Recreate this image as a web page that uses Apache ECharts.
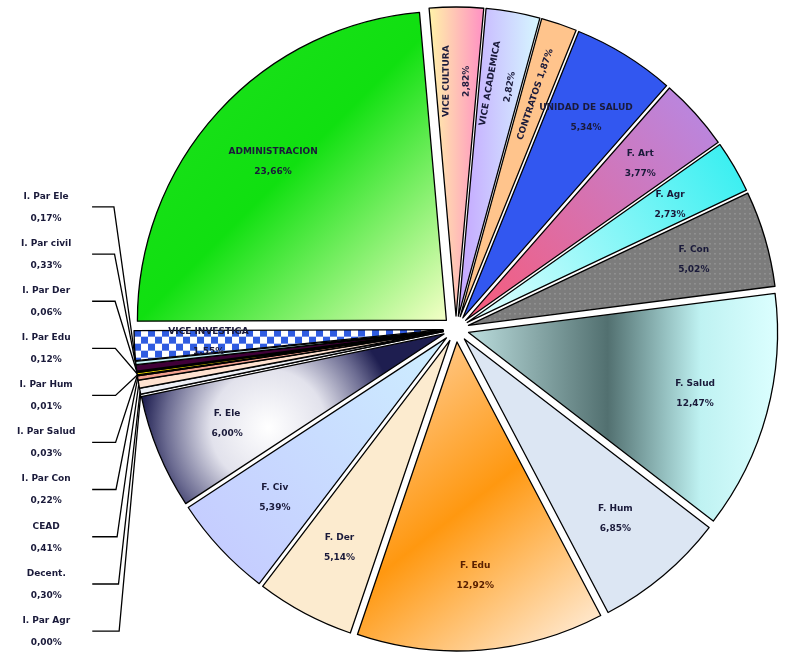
<!DOCTYPE html>
<html>
<head>
<meta charset="utf-8">
<script src="https://cdn.jsdelivr.net/npm/echarts@6/dist/echarts.min.js"></script>
<style>
  html, body { margin: 0; padding: 0; background: #fff; }
  #chart { width: 788px; height: 652px; }
</style>
</head>
<body>
<div id="chart"></div>
<script>
// slices in clockwise order, starting just right of the top
const names = ['VICE CULTURA', 'VICE ACADEMICA', 'CONTRATOS', 'UNIDAD DE SALUD', 'F. Art', 'F. Agr', 'F. Con',
    'F. Salud', 'F. Hum', 'F. Edu', 'F. Der', 'F. Civ', 'F. Ele',
    'I. Par Agr', 'Decent.', 'CEAD', 'I. Par Con', 'I. Par Salud', 'I. Par Hum', 'I. Par Edu', 'I. Par Der',
    'I. Par civil', 'I. Par Ele', 'VICE INVESTIGA', 'ADMINISTRACION'];
const values = [2.82, 2.82, 1.87, 5.34, 3.77, 2.73, 5.02,
    12.47, 6.85, 12.92, 5.14, 5.39, 6.00,
    0.00, 0.30, 0.41, 0.22, 0.03, 0.01, 0.12, 0.06,
    0.33, 0.17, 1.55, 23.66];
// tiny slices get their labels outside, in the left column
const outsideNames = ['I. Par Agr', 'Decent.', 'CEAD', 'I. Par Con', 'I. Par Salud', 'I. Par Hum',
    'I. Par Edu', 'I. Par Der', 'I. Par civil', 'I. Par Ele'];
const radialNames = ['VICE CULTURA', 'VICE ACADEMICA', 'CONTRATOS'];

const pct = v => v.toFixed(2).replace('.', ',') + '%';

// small canvas patterns
const makePattern = (size, draw) => {
    let c = document.createElement('canvas');
    c.width = size; c.height = size;
    draw(c.getContext('2d'));
    return { image: c, repeat: 'repeat' };
};
const checker = makePattern(14, g => {
    g.fillStyle = '#ffffff'; g.fillRect(0, 0, 14, 14);
    g.fillStyle = '#2f5be0'; g.fillRect(0, 0, 7, 7); g.fillRect(7, 7, 7, 7);
});
const dots = makePattern(5, g => {
    g.fillStyle = '#7c7c7c'; g.fillRect(0, 0, 5, 5);
    g.fillStyle = '#b8b8b8'; g.fillRect(2, 2, 1, 1);
});

const lin = (x, y, x2, y2, stops) => ({
    type: 'linear', x: x, y: y, x2: x2, y2: y2,
    colorStops: stops.map((c, i) => ({ offset: i / (stops.length - 1), color: c }))
});

const fills = {
    'VICE CULTURA': lin(0, 0, 1, 0, ['#fff4a8', '#ff8fc4']),
    'VICE ACADEMICA': lin(0, 0, 1, 0, ['#c4a4ff', '#d6f8ff']),
    'CONTRATOS': '#ffc48c',
    'UNIDAD DE SALUD': '#3257f0',
    'F. Art': lin(0, 1, 1, 0, ['#f85a78', '#b48ae8']),
    'F. Agr': lin(1, 0, 0, 1, ['#30eef0', '#e6ffff']),
    'F. Con': dots,
    'F. Salud': { type: 'linear', x: 0, y: 0, x2: 1, y2: 0, colorStops: [
        { offset: 0, color: '#bcdede' }, { offset: 0.45, color: '#527070' },
        { offset: 0.75, color: '#bff2f2' }, { offset: 1, color: '#dcffff' }] },
    'F. Hum': '#dce6f3',
    'F. Edu': lin(0, 0, 1, 1, ['#ffd8b0', '#ff9810', '#fff4ea']),
    'F. Der': '#fcebcf',
    'F. Civ': lin(0, 1, 1, 0, ['#c4c8ff', '#cdeeff']),
    'F. Ele': { type: 'radial', x: 0.42, y: 0.55, r: 0.75, colorStops: [
        { offset: 0, color: '#ffffff' }, { offset: 0.45, color: '#e2e2ec' },
        { offset: 0.8, color: '#6c6c92' }, { offset: 1, color: '#1e1e50' }] },
    'I. Par Agr': '#ffffff',
    'Decent.': '#eef0f6',
    'CEAD': '#ffe2d0',
    'I. Par Con': '#f2a08e',
    'I. Par Salud': '#000000',
    'I. Par Hum': '#5a0010',
    'I. Par Edu': '#f2e000',
    'I. Par Der': '#000000',
    'I. Par civil': '#400038',
    'I. Par Ele': '#c6f2f6',
    'VICE INVESTIGA': checker,
    'ADMINISTRACION': lin(0, 0, 1, 1, ['#20e020', '#10e010', '#f6ffc8'])
};

const R = 309;
const center = [456, 329];
const labelFont = { fontFamily: 'DejaVu Sans', fontSize: 9, fontWeight: 'bold', color: '#1a1a3a' };

const mainData = names.map((n, i) => {
    let out = outsideNames.includes(n);
    return {
        name: n,
        value: values[i],
        selected: true,
        itemStyle: { color: fills[n] },
        label: { show: out },
        labelLine: { show: out }
    };
});

const labelData = names.map((n, i) => {
    let out = outsideNames.includes(n);
    let item = { name: n, value: values[i], selected: true, label: { show: !out } };
    if (radialNames.includes(n)) item.label.rotate = 'radial';
    if (n === 'F. Edu') item.label.color = '#5a2000';
    return item;
});

const chart = echarts.init(document.getElementById('chart'));

chart.setOption({
    backgroundColor: '#ffffff',
    animation: false,
    series: [
        {
            type: 'pie',
            center: center,
            radius: [0, R],
            startAngle: 95,
            clockwise: true,
            selectedMode: 'multiple',
            selectedOffset: 13,
            emphasis: { disabled: true },
            itemStyle: { borderColor: '#000', borderWidth: 1.3 },
            label: Object.assign({
                position: 'outside',
                alignTo: 'edge',
                edgeDistance: 4,
                lineHeight: 22,
                overflow: 'none',
                padding: [1, 0, 0, 0],
                formatter: p => '{a|' + p.name + '}\n{a|' + pct(p.value) + '}',
                rich: { a: { width: 82, align: 'center', lineHeight: 22, padding: [0, 0, 0, 14],
                    fontFamily: 'DejaVu Sans', fontSize: 9, fontWeight: 'bold', color: '#1a1a3a' } }
            }, labelFont),
            labelLine: { length: 22, length2: 22, lineStyle: { color: '#000', width: 1.3 } },
            data: mainData
        },
        {
            type: 'pie',
            center: center,
            radius: [R * 0.5, R],
            startAngle: 95,
            clockwise: true,
            selectedMode: 'multiple',
            selectedOffset: 13,
            silent: true,
            avoidLabelOverlap: false,
            itemStyle: { color: 'rgba(0,0,0,0)', borderWidth: 0 },
            label: Object.assign({
                position: 'inside',
                lineHeight: 20,
                formatter: p => p.name === 'CONTRATOS'
                    ? p.name + ' ' + pct(p.value)
                    : p.name + '\n' + pct(p.value)
            }, labelFont),
            labelLine: { show: false },
            labelLayout: { hideOverlap: false },
            data: labelData
        }
    ]
});
</script>
</body>
</html>
